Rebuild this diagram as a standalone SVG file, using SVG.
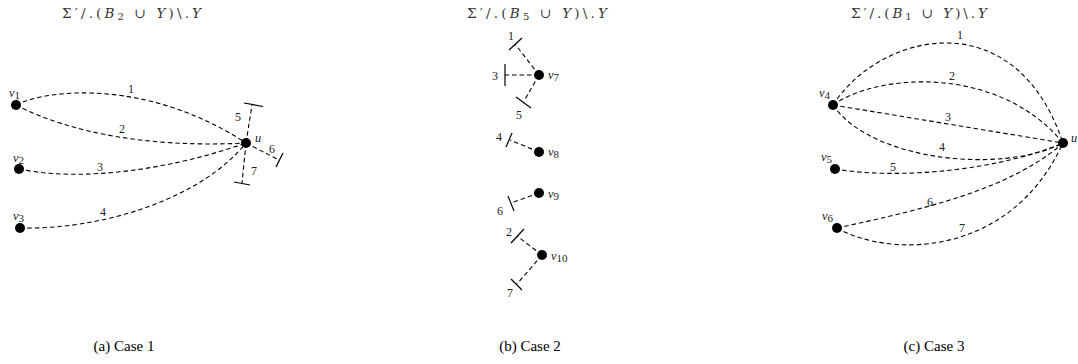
<svg xmlns="http://www.w3.org/2000/svg" width="1078" height="364" viewBox="0 0 1078 364">
<style>
.e{fill:none;stroke:#000;stroke-width:1.1;stroke-dasharray:4.5 3}
.t{fill:none;stroke:#000;stroke-width:1.2}
.n{fill:#000}
.num{font-family:"Liberation Serif",serif;font-size:12px;fill:#222;text-anchor:middle}
.vl{font-family:"Liberation Serif",serif;font-size:12.5px;font-style:italic;fill:#222}
.sub{font-style:normal;font-size:11px}
.ttl{font-family:"DejaVu Serif",serif;font-size:13.5px;fill:#333}
.cap{font-family:"Liberation Serif",serif;font-size:15px;fill:#000;text-anchor:middle}
</style>

<!-- titles -->
<text class="ttl" x="467" y="18" textLength="140" lengthAdjust="spacing">Σ′/.(<tspan font-style="italic">B</tspan><tspan font-size="10" dy="2">5</tspan><tspan dy="-2"> ∪ </tspan><tspan font-style="italic">Y</tspan>)\.<tspan font-style="italic">Y</tspan></text>
<text class="ttl" x="62" y="18" textLength="139" lengthAdjust="spacing">Σ′/.(<tspan font-style="italic">B</tspan><tspan font-size="10" dy="2">2</tspan><tspan dy="-2"> ∪ </tspan><tspan font-style="italic">Y</tspan>)\.<tspan font-style="italic">Y</tspan></text>
<text class="ttl" x="851" y="18" textLength="136" lengthAdjust="spacing">Σ′/.(<tspan font-style="italic">B</tspan><tspan font-size="10" dy="2">1</tspan><tspan dy="-2"> ∪ </tspan><tspan font-style="italic">Y</tspan>)\.<tspan font-style="italic">Y</tspan></text>

<!-- connectors -->
<g id="connectors">
  <!-- panel a -->
  <path class="e" d="M16,105 C50,88 150,80 246,143"/>
  <path class="e" d="M16,105 C70,133 150,148 246,143"/>
  <path class="e" d="M19,169 C80,182 170,170 246,143"/>
  <path class="e" d="M20,228 C100,230 200,200 246,143"/>
  <path class="e" d="M246,143 L252,105"/>
  <path class="t" d="M244,103 L263,106.5"/>
  <path class="e" d="M246,143 L279,160"/>
  <path class="t" d="M276,167 L283,153"/>
  <path class="e" d="M246,143 L242,183"/>
  <path class="t" d="M234,182 L250,185"/>
  <!-- panel b -->
  <path class="e" d="M539,75 L515,44"/>
  <path class="t" d="M509,50 L522,38"/>
  <path class="e" d="M539,75 L505,75"/>
  <path class="t" d="M505,64 L505,86"/>
  <path class="e" d="M539,75 L524,101"/>
  <path class="t" d="M516,97 L531,108"/>
  <path class="e" d="M539,152 L510,140"/>
  <path class="t" d="M506,147 L512,133"/>
  <path class="e" d="M539,193 L511,203"/>
  <path class="t" d="M508,196 L514,211"/>
  <path class="e" d="M542,255 L517,236"/>
  <path class="t" d="M511,243 L524,229"/>
  <path class="e" d="M542,255 L517,284"/>
  <path class="t" d="M511,279 L522,290"/>
  <!-- panel c -->
  <path class="e" d="M833,105 C880,32 1015,0 1063,143"/>
  <path class="e" d="M833,105 C880,72 1000,66 1063,143"/>
  <path class="e" d="M833,105 L1063,143"/>
  <path class="e" d="M833,105 C870,160 1000,175 1063,143"/>
  <path class="e" d="M835,169 C900,180 1000,170 1063,143"/>
  <path class="e" d="M837,228 C920,210 1010,190 1063,143"/>
  <path class="e" d="M837,228 C890,258 1010,258 1063,143"/>
</g>

<!-- edge labels -->
<g id="edge-labels">
  <text class="num" x="131" y="93">1</text>
  <text class="num" x="122" y="133">2</text>
  <text class="num" x="100" y="171">3</text>
  <text class="num" x="103" y="216">4</text>
  <text class="num" x="238" y="121">5</text>
  <text class="num" x="272" y="153">6</text>
  <text class="num" x="254" y="175">7</text>

  <text class="num" x="511" y="40">1</text>
  <text class="num" x="495" y="80">3</text>
  <text class="num" x="519" y="119">5</text>
  <text class="num" x="499" y="141">4</text>
  <text class="num" x="500" y="215">6</text>
  <text class="num" x="509" y="236">2</text>
  <text class="num" x="510" y="297">7</text>

  <text class="num" x="960" y="39">1</text>
  <text class="num" x="952" y="80">2</text>
  <text class="num" x="948" y="121">3</text>
  <text class="num" x="942" y="151">4</text>
  <text class="num" x="893" y="171">5</text>
  <text class="num" x="930" y="206">6</text>
  <text class="num" x="962" y="232">7</text>
</g>

<!-- panel a nodes -->
<g id="a-v1"><circle class="n" cx="16" cy="105" r="5"/><text class="vl" x="9" y="97">v<tspan class="sub" dy="2">1</tspan></text></g>
<g id="a-v2"><circle class="n" cx="19" cy="169" r="5"/><text class="vl" x="13" y="162">v<tspan class="sub" dy="2">2</tspan></text></g>
<g id="a-v3"><circle class="n" cx="20" cy="228" r="5"/><text class="vl" x="13" y="220">v<tspan class="sub" dy="2">3</tspan></text></g>
<g id="a-u"><circle class="n" cx="246" cy="143" r="5"/><text class="vl" x="255" y="142" font-size="11">u</text></g>

<!-- panel b nodes -->
<g id="b-v7"><circle class="n" cx="539" cy="75" r="5"/><text class="vl" x="548" y="79">v<tspan class="sub" dy="2">7</tspan></text></g>
<g id="b-v8"><circle class="n" cx="539" cy="152" r="5"/><text class="vl" x="548" y="156">v<tspan class="sub" dy="2">8</tspan></text></g>
<g id="b-v9"><circle class="n" cx="539" cy="193" r="5"/><text class="vl" x="548" y="198">v<tspan class="sub" dy="2">9</tspan></text></g>
<g id="b-v10"><circle class="n" cx="542" cy="255" r="5"/><text class="vl" x="551" y="260">v<tspan class="sub" dy="2">10</tspan></text></g>

<!-- panel c nodes -->
<g id="c-v4"><circle class="n" cx="833" cy="105" r="5"/><text class="vl" x="819" y="97">v<tspan class="sub" dy="2">4</tspan></text></g>
<g id="c-v5"><circle class="n" cx="835" cy="169" r="5"/><text class="vl" x="821" y="161">v<tspan class="sub" dy="2">5</tspan></text></g>
<g id="c-v6"><circle class="n" cx="837" cy="228" r="5"/><text class="vl" x="822" y="220">v<tspan class="sub" dy="2">6</tspan></text></g>
<g id="c-u"><circle class="n" cx="1063" cy="143" r="5"/><text class="vl" x="1071" y="142" font-size="11">u</text></g>

<!-- captions -->
<text class="cap" x="124" y="351">(a)  Case 1</text>
<text class="cap" x="530" y="351">(b)  Case 2</text>
<text class="cap" x="934" y="351">(c)  Case 3</text>
</svg>
